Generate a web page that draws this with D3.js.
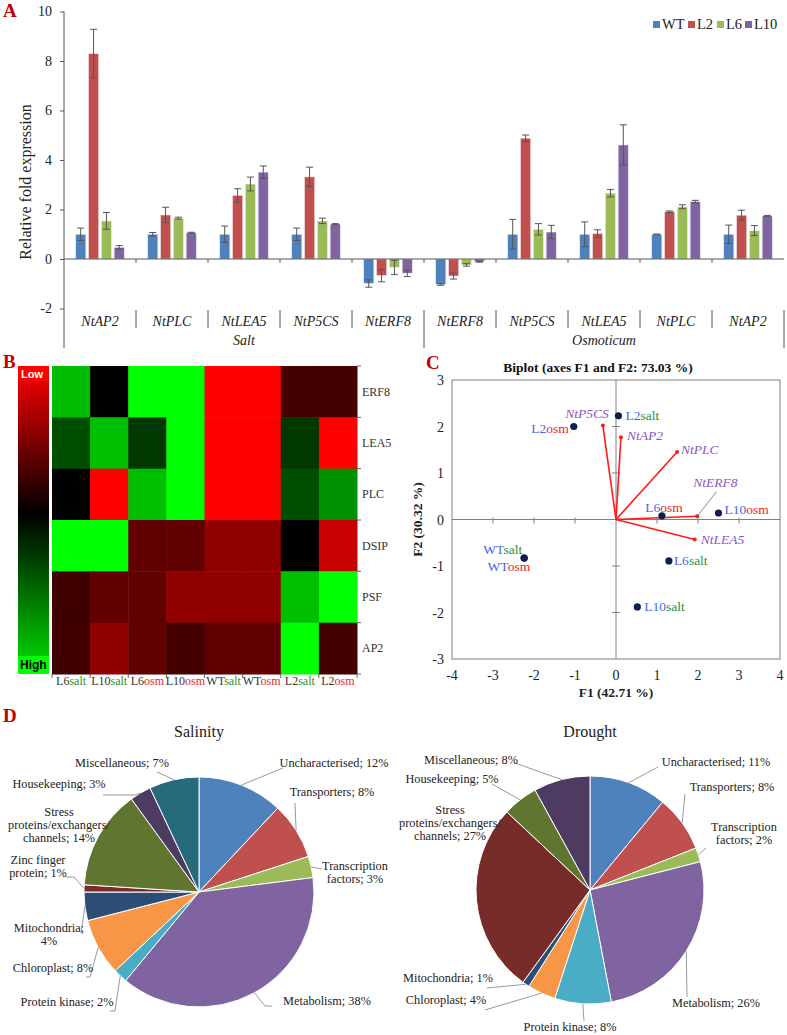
<!DOCTYPE html>
<html>
<head>
<meta charset="utf-8">
<script src="https://cdn.jsdelivr.net/npm/d3@7/dist/d3.min.js"></script>
<style>
html,body{margin:0;padding:0;background:#fff;}
svg{display:block;}
</style>
</head>
<body>
<svg id="fig" width="787" height="1035"></svg>
<script>
// ================= DATA =================
// Panel A
const seriesNames = ["WT","L2","L6","L10"];
const seriesColors = ["#4F81BD","#C0504D","#9BBB59","#8064A2"];
const genes = ["NtAP2","NtPLC","NtLEA5","NtP5CS","NtERF8","NtERF8","NtP5CS","NtLEA5","NtPLC","NtAP2"];
const conditions = ["Salt","Osmoticum"];
const valWT  = [1.0, 1.0, 1.0, 1.0, -0.99, -1.03, 1.0, 1.0, 1.0, 1.0];
const valL2  = [8.3, 1.78, 2.57, 3.32, -0.67, -0.69, 4.88, 1.03, 1.91, 1.77];
const valL6  = [1.54, 1.65, 3.03, 1.54, -0.34, -0.24, 1.2, 2.66, 2.11, 1.15];
const valL10 = [0.47, 1.06, 3.51, 1.41, -0.58, -0.11, 1.09, 4.61, 2.32, 1.74];
const errWT  = [0.25, 0.07, 0.33, 0.25, 0.15, 0.03, 0.6, 0.5, 0.0, 0.37];
const errL2  = [0.98, 0.31, 0.27, 0.39, 0.25, 0.12, 0.13, 0.15, 0.03, 0.2];
const errL6  = [0.34, 0.04, 0.28, 0.11, 0.29, 0.05, 0.23, 0.15, 0.08, 0.2];
const errL10 = [0.07, 0.02, 0.25, 0.02, 0.13, 0.02, 0.27, 0.81, 0.05, 0.02];
const yTicksA = [-2, 0, 2, 4, 6, 8, 10];

// Panel B
const heatRows = ["ERF8","LEA5","PLC","DSIP","PSF","AP2"];
const heatCols = ["L6salt","L10salt","L6osm","L10osm","WTsalt","WTosm","L2salt","L2osm"];
const heatERF8 = [0.74, 0.0, 1.0, 1.0, -1.0, -1.0, -0.27, -0.27];
const heatLEA5 = [0.31, 0.75, 0.22, 1.0, -1.0, -1.0, 0.22, -1.0];
const heatPLC  = [0.0, -1.0, 0.75, 1.0, -1.0, -1.0, 0.31, 0.57];
const heatDSIP = [1.0, 1.0, -0.38, -0.38, -0.57, -0.57, 0.0, -0.78];
const heatPSF  = [-0.25, -0.38, -0.38, -0.57, -0.57, -0.57, 0.75, 1.0];
const heatAP2  = [-0.25, -0.57, -0.38, -0.27, -0.38, -0.38, 1.0, -0.27];

// Panel C
const obsNames = ["L2salt","L2osm","L6osm","L10osm","WTsalt","WTosm","L6salt","L10salt"];
const obsF1 = [0.06, -1.03, 1.12, 2.5, -2.24, -2.24, 1.29, 0.52];
const obsF2 = [2.23, 2.0, 0.08, 0.14, -0.83, -0.83, -0.89, -1.88];
const varNames = ["NtP5CS","NtAP2","NtPLC","NtERF8","NtLEA5"];
const varF1 = [-0.32, 0.12, 1.49, 1.98, 1.92];
const varF2 = [2.02, 1.77, 1.45, 0.07, -0.43];
const biTicksX = [-4,-3,-2,-1,0,1,2,3,4];
const biTicksY = [-3,-2,-1,0,1,2,3];

// Panel D
const pieColors = ["#4F81BD","#C0504D","#9BBB59","#8064A2","#4BACC6","#F79646","#2C4D75","#772C2A","#5F7530","#4D3B62","#276A7C"];
const salinityNames = ["Uncharacterised","Transporters","Transcription|factors","Metabolism","Protein kinase","Chloroplast","Mitochondria","Zinc finger|protein","Stress|proteins/exchangers/|channels","Housekeeping","Miscellaneous"];
const salinityValues = [12, 8, 3, 38, 2, 8, 4, 1, 14, 3, 7];
const droughtNames = ["Uncharacterised","Transporters","Transcription|factors","Metabolism","Protein kinase","Chloroplast","Mitochondria","Stress|proteins/exchangers/|channels","Housekeeping","Miscellaneous"];
const droughtValues = [11, 8, 2, 26, 8, 4, 1, 27, 5, 8];

// ================= DRAWING =================
const serif = '"Liberation Serif","Times New Roman",serif';
const sans = '"Liberation Sans",Arial,sans-serif';
const svg = d3.select("#fig");

function panelLetter(t, x, y) {
  svg.append("text").attr("x", x).attr("y", y).text(t)
    .attr("font-family", serif).attr("font-weight", "bold").attr("font-size", 19).attr("fill", "#C00000");
}

// ---------- Panel A ----------
(function(){
  const g = svg.append("g");
  const yA = d3.scaleLinear().domain([-2, 10]).range([308.5, 11.5]);
  const xA = d3.scaleBand().domain(d3.range(genes.length)).range([64, 784]).padding(0);
  const xIn = d3.scaleBand().domain(seriesNames).range([0, xA.bandwidth()]).paddingInner(0.2).paddingOuter(0.9);
  const vals = [valWT, valL2, valL6, valL10];
  const errs = [errWT, errL2, errL6, errL10];
  const axisCol = "#555";

  // axis
  const ax = g.append("g").attr("transform", "translate(64,0)")
    .call(d3.axisLeft(yA).tickValues(yTicksA).tickFormat(d => d).tickSize(4).tickPadding(8));
  ax.select(".domain").remove();
  ax.selectAll("line").attr("stroke", axisCol);
  ax.selectAll("text").attr("font-family", serif).attr("font-size", 14).attr("fill", "#222");
  g.append("line").attr("x1", 64).attr("x2", 64).attr("y1", yA(10)).attr("y2", 348).attr("stroke", axisCol);

  // bars
  const data = [];
  genes.forEach((gn, i) => seriesNames.forEach((s, k) => data.push({i, s, k, v: vals[k][i], e: errs[k][i]})));
  g.selectAll("rect.bar").data(data).join("rect").attr("class", "bar")
    .attr("x", d => xA(d.i) + xIn(d.s))
    .attr("width", xIn.bandwidth())
    .attr("y", d => Math.min(yA(d.v), yA(0)))
    .attr("height", d => Math.abs(yA(d.v) - yA(0)))
    .attr("fill", d => seriesColors[d.k])
    .attr("stroke", "#fff").attr("stroke-opacity", 0.55).attr("stroke-width", 1);

  // zero line
  g.append("line").attr("x1", 64).attr("x2", 784).attr("y1", yA(0)).attr("y2", yA(0)).attr("stroke", axisCol);
  // ticks at zero line
  d3.range(1, genes.length).forEach(i => {
    g.append("line").attr("x1", xA(i)).attr("x2", xA(i)).attr("y1", yA(0)).attr("y2", yA(0) + 4).attr("stroke", axisCol);
  });

  // error bars
  const eb = g.append("g").attr("stroke", "#555").attr("stroke-width", 1);
  data.forEach(d => {
    const cx = xA(d.i) + xIn(d.s) + xIn.bandwidth() / 2;
    const y1 = yA(d.v - d.e), y2 = yA(d.v + d.e);
    eb.append("line").attr("x1", cx).attr("x2", cx).attr("y1", y1).attr("y2", y2);
    eb.append("line").attr("x1", cx - 3.5).attr("x2", cx + 3.5).attr("y1", y1).attr("y2", y1);
    eb.append("line").attr("x1", cx - 3.5).attr("x2", cx + 3.5).attr("y1", y2).attr("y2", y2);
  });

  // category separators
  d3.range(1, genes.length).forEach(i => {
    const long = (i === genes.length / 2);
    g.append("line").attr("x1", xA(i)).attr("x2", xA(i)).attr("y1", 310).attr("y2", long ? 348 : 328).attr("stroke", axisCol);
  });
  g.append("line").attr("x1", 784).attr("x2", 784).attr("y1", 310).attr("y2", 348).attr("stroke", axisCol);

  // category labels
  g.selectAll("text.gene").data(genes).join("text").attr("class", "gene")
    .attr("x", (d, i) => xA(i) + xA.bandwidth() / 2).attr("y", 326)
    .attr("text-anchor", "middle").attr("font-family", serif).attr("font-style", "italic")
    .attr("font-size", 14).attr("fill", "#222").text(d => d);
  conditions.forEach((c, j) => {
    const half = genes.length / 2;
    const x0 = xA(j * half), x1 = xA(j * half + half - 1) + xA.bandwidth();
    g.append("text").attr("x", (x0 + x1) / 2).attr("y", 345).attr("text-anchor", "middle")
      .attr("font-family", serif).attr("font-style", "italic").attr("font-size", 14).attr("fill", "#222").text(c);
  });

  // y label
  g.append("text").attr("transform", "translate(31,182) rotate(-90)").attr("text-anchor", "middle")
    .attr("font-family", serif).attr("font-size", 16).attr("fill", "#222").text("Relative fold expression");

  // legend
  const legX = [653, 688, 717, 745];
  seriesNames.forEach((s, k) => {
    g.append("rect").attr("x", legX[k]).attr("y", 21).attr("width", 7).attr("height", 7).attr("fill", seriesColors[k]);
    g.append("text").attr("x", legX[k] + 9).attr("y", 29).attr("font-family", serif).attr("font-size", 14.5)
      .attr("fill", "#222").text(s);
  });

  panelLetter("A", 3, 17);
})();

// ---------- Panel B ----------
(function(){
  const g = svg.append("g");
  const heat = [heatERF8, heatLEA5, heatPLC, heatDSIP, heatPSF, heatAP2];
  const hx = d3.scaleBand().domain(heatCols).range([52, 357]);
  const hy = d3.scaleBand().domain(heatRows).range([366, 674]);
  const col = d3.scaleLinear().domain([-1, 0, 1]).range(["#ff0000", "#000000", "#00ff00"]);

  const cells = [];
  heatRows.forEach((r, i) => heatCols.forEach((c, j) => cells.push({r, c, v: heat[i][j]})));
  g.selectAll("rect.cell").data(cells).join("rect").attr("class", "cell")
    .attr("x", d => hx(d.c)).attr("y", d => hy(d.r))
    .attr("width", hx.bandwidth() + 0.5).attr("height", hy.bandwidth() + 0.5)
    .attr("fill", d => col(d.v));

  // right ticks + labels
  const tickCol = "#666";
  heatRows.forEach((r, i) => {
    g.append("line").attr("x1", 357).attr("x2", 361).attr("y1", hy(r)).attr("y2", hy(r)).attr("stroke", tickCol);
    g.append("text").attr("x", 362).attr("y", hy(r) + hy.bandwidth() / 2 + 4).attr("font-family", serif)
      .attr("font-size", 12).attr("fill", "#333").text(r);
  });
  g.append("line").attr("x1", 357).attr("x2", 361).attr("y1", 674).attr("y2", 674).attr("stroke", tickCol);
  heatCols.forEach((c, j) => {
    g.append("line").attr("x1", hx(c)).attr("x2", hx(c)).attr("y1", 674).attr("y2", 678).attr("stroke", tickCol);
    const m = c.match(/^(.*?)(salt|osm)$/);
    const t = g.append("text").attr("x", hx(c) + hx.bandwidth() / 2).attr("y", 685).attr("text-anchor", "middle")
      .attr("font-family", serif).attr("font-size", 12);
    t.append("tspan").attr("fill", "#333").text(m[1]);
    t.append("tspan").attr("fill", m[2] === "salt" ? "#2f8f2f" : "#e8262b").text(m[2]);
  });
  g.append("line").attr("x1", 357).attr("x2", 357).attr("y1", 674).attr("y2", 678).attr("stroke", tickCol);

  // colour bar
  const defs = svg.append("defs");
  const grad = defs.append("linearGradient").attr("id", "cbar").attr("x1", 0).attr("y1", 0).attr("x2", 0).attr("y2", 1);
  grad.append("stop").attr("offset", "0%").attr("stop-color", "#ff0000");
  grad.append("stop").attr("offset", "48%").attr("stop-color", "#000000");
  grad.append("stop").attr("offset", "100%").attr("stop-color", "#00e000");
  g.append("rect").attr("x", 18).attr("y", 366).attr("width", 31).attr("height", 308).attr("fill", "url(#cbar)");
  g.append("rect").attr("x", 18).attr("y", 366).attr("width", 31).attr("height", 15).attr("fill", "#ff0000");
  g.append("text").attr("x", 21).attr("y", 378).attr("font-family", sans).attr("font-weight", "bold")
    .attr("font-size", 11).attr("fill", "#fff").text("Low");
  g.append("rect").attr("x", 18).attr("y", 656).attr("width", 31).attr("height", 18).attr("fill", "#00ff00");
  g.append("text").attr("x", 20).attr("y", 669).attr("font-family", sans).attr("font-weight", "bold")
    .attr("font-size", 12).attr("fill", "#000").text("High");

  panelLetter("B", 3, 368);
})();

// ---------- Panel C ----------
(function(){
  const g = svg.append("g");
  const x = d3.scaleLinear().domain([-4, 4]).range([452, 780]);
  const y = d3.scaleLinear().domain([-3, 3]).range([659, 380]);
  const grey = "#808080";

  g.append("rect").attr("x", x(-4)).attr("y", y(3)).attr("width", x(4) - x(-4)).attr("height", y(-3) - y(3))
    .attr("fill", "none").attr("stroke", grey).attr("stroke-width", 1);
  g.append("line").attr("x1", x(0)).attr("x2", x(0)).attr("y1", y(3)).attr("y2", y(-3)).attr("stroke", grey);
  g.append("line").attr("x1", x(-4)).attr("x2", x(4)).attr("y1", y(0)).attr("y2", y(0)).attr("stroke", grey);
  biTicksX.filter(d => d > -4 && d < 4 && d !== 0).forEach(d => {
    g.append("line").attr("x1", x(d)).attr("x2", x(d)).attr("y1", y(0) - 2).attr("y2", y(0) + 4).attr("stroke", grey);
  });
  biTicksY.filter(d => d > -3 && d < 3 && d !== 0).forEach(d => {
    g.append("line").attr("x1", x(0) - 4).attr("x2", x(0) + 4).attr("y1", y(d)).attr("y2", y(d)).attr("stroke", grey);
  });
  // tick labels
  biTicksX.forEach(d => {
    g.append("text").attr("x", x(d)).attr("y", 680).attr("text-anchor", "middle").attr("font-family", serif)
      .attr("font-size", 14).attr("fill", "#222").text(d);
  });
  biTicksY.forEach(d => {
    g.append("text").attr("x", 444).attr("y", y(d) + 5).attr("text-anchor", "end").attr("font-family", serif)
      .attr("font-size", 14).attr("fill", "#222").text(d);
  });
  g.append("text").attr("x", x(0)).attr("y", 697).attr("text-anchor", "middle").attr("font-family", serif)
    .attr("font-weight", "bold").attr("font-size", 13.5).attr("fill", "#222").text("F1 (42.71 %)");
  g.append("text").attr("transform", `translate(422,${y(0)}) rotate(-90)`).attr("text-anchor", "middle").attr("font-family", serif)
    .attr("font-weight", "bold").attr("font-size", 13.5).attr("fill", "#222").text("F2 (30.32 %)");
  g.append("text").attr("x", 598).attr("y", 372).attr("text-anchor", "middle").attr("font-family", serif)
    .attr("font-weight", "bold").attr("font-size", 13.5).attr("fill", "#111").text("Biplot (axes F1 and F2: 73.03 %)");

  // vectors
  const varLab = [
    {dx: 6, dy: -7.5, anchor: "end"},
    {dx: 6, dy: 3, anchor: "start"},
    {dx: 4, dy: 2, anchor: "start"},
    {dx: -4, dy: -29, anchor: "start", leader: [19.4, -24.6]},
    {dx: 6, dy: 5, anchor: "start"}
  ];
  varNames.forEach((n, i) => {
    const tx = x(varF1[i]), ty = y(varF2[i]);
    g.append("line").attr("x1", x(0)).attr("y1", y(0)).attr("x2", tx).attr("y2", ty)
      .attr("stroke", "#ff1a1a").attr("stroke-width", 1.6);
    g.append("circle").attr("cx", tx).attr("cy", ty).attr("r", 2).attr("fill", "#ff1a1a");
    const L = varLab[i];
    if (L.leader) {
      g.append("line").attr("x1", tx).attr("y1", ty).attr("x2", tx + L.leader[0]).attr("y2", ty + L.leader[1])
        .attr("stroke", "#555").attr("stroke-width", 0.7);
    }
    g.append("text").attr("x", tx + L.dx).attr("y", ty + L.dy).attr("text-anchor", L.anchor)
      .attr("font-family", serif).attr("font-style", "italic").attr("font-size", 13.5).attr("fill", "#8a55c8").text(n);
  });

  // observations
  const obsLab = [
    {dx: 7, dy: 4, anchor: "start"},
    {dx: -5, dy: 6, anchor: "end"},
    {dx: 2, dy: -4, anchor: "middle"},
    {dx: 6, dy: 1, anchor: "start"},
    {dx: -2, dy: -4, anchor: "end"},
    {dx: 6, dy: 12.5, anchor: "end"},
    {dx: 5, dy: 4, anchor: "start"},
    {dx: 7, dy: 4, anchor: "start"}
  ];
  obsNames.forEach((n, i) => {
    const cx = x(obsF1[i]), cy = y(obsF2[i]);
    g.append("circle").attr("cx", cx).attr("cy", cy).attr("r", 3.6).attr("fill", "#0d1f4f");
    const L = obsLab[i];
    const m = n.match(/^(.*?)(salt|osm)$/);
    const t = g.append("text").attr("x", cx + L.dx).attr("y", cy + L.dy).attr("text-anchor", L.anchor)
      .attr("font-family", serif).attr("font-size", 13.5);
    t.append("tspan").attr("fill", "#4466ee").text(m[1]);
    t.append("tspan").attr("fill", m[2] === "salt" ? "#2f8f2f" : "#ee2424").text(m[2]);
  });

  panelLetter("C", 426, 369);
})();

// ---------- Panel D ----------
const salLayout = [
  {x: 334, y: 767, leader: [[283, 768]]},
  {x: 332, y: 796, leader: [[295, 803]]},
  {x: 355, y: 870, leader: [[322, 869]]},
  {x: 327, y: 1005, leader: [[272, 1006], [265, 1006]]},
  {x: 67, y: 1006, leader: [[110, 1011], [115, 1011]]},
  {x: 53, y: 972, leader: [[86, 977], [90, 977]]},
  {x: 49, y: 932, breakPct: true, leader: [[81, 933]]},
  {x: 38, y: 864, leader: [[66, 877], [74, 877]]},
  {x: 59, y: 816},
  {x: 59, y: 788, leader: [[103, 795], [136, 795]]},
  {x: 122, y: 767, leader: [[157, 772]]}
];
const drLayout = [
  {x: 716, y: 766, leader: [[658, 767]]},
  {x: 732, y: 791, leader: [[685, 794]]},
  {x: 744, y: 831, leader: [[706, 848]]},
  {x: 716, y: 1007, leader: [[687, 997]]},
  {x: 570, y: 1031, leader: [[584, 1021]]},
  {x: 446, y: 1004, leader: [[485, 1010]]},
  {x: 448, y: 982, leader: [[487, 988]]},
  {x: 450, y: 814},
  {x: 452, y: 783, leader: [[492, 784]]},
  {x: 471, y: 764, leader: [[515, 763]]}
];

function drawPie(cx, cy, r, names, values, title, layout) {
  const g = svg.append("g");
  const arcs = d3.pie().sort(null).value(d => d)(values);
  const arc = d3.arc().innerRadius(0).outerRadius(r);
  g.append("g").attr("transform", `translate(${cx},${cy})`)
    .selectAll("path").data(arcs).join("path").attr("d", arc)
    .attr("fill", (d, i) => pieColors[i]).attr("stroke", "#fff").attr("stroke-width", 1);

  g.append("text").attr("x", cx).attr("y", 737).attr("text-anchor", "middle").attr("font-family", serif)
    .attr("font-size", 16).attr("fill", "#222").text(title);

  arcs.forEach((a, i) => {
    const L = layout[i];
    const mid = (a.startAngle + a.endAngle) / 2;
    const ex = cx + r * Math.sin(mid), ey = cy - r * Math.cos(mid);
    if (L.leader) {
      const pts = L.leader.concat([[ex, ey]]);
      g.append("path").attr("d", d3.line()(pts)).attr("fill", "none").attr("stroke", "#7f7f7f").attr("stroke-width", 0.8);
    }
    const lines = names[i].split("|");
    if (L.breakPct) { lines[lines.length - 1] += ";"; lines.push(values[i] + "%"); }
    else lines[lines.length - 1] += "; " + values[i] + "%";
    const t = g.append("text").attr("text-anchor", "middle").attr("font-family", serif).attr("font-size", 12.3).attr("fill", "#222");
    lines.forEach((ln, k) => t.append("tspan").attr("x", L.x).attr("y", L.y + k * 13).text(ln));
  });
}
drawPie(199, 892, 115, salinityNames, salinityValues, "Salinity", salLayout);
drawPie(590, 890, 114, droughtNames, droughtValues, "Drought", drLayout);
panelLetter("D", 3, 722);
</script>
</body>
</html>
